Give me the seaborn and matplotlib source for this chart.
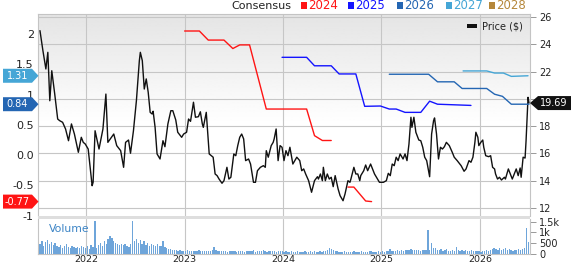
import numpy as np
import matplotlib
matplotlib.use("Agg")
import matplotlib.pyplot as plt
import seaborn as sns
from matplotlib.patches import Polygon, Rectangle
from matplotlib.transforms import blended_transform_factory

# ---------------- data ----------------
price_t_2021 = [2021.53, 2021.56, 2021.59, 2021.61, 2021.63, 2021.65, 2021.68, 2021.71, 2021.73, 2021.76,
                2021.79, 2021.82, 2021.85, 2021.88, 2021.92, 2021.95, 2021.97, 2021.99]
price_2021 = [25.00, 23.53, 22.19, 23.41, 19.86, 22.06, 20.35, 18.52, 18.40, 18.28,
              17.79, 16.93, 18.16, 17.42, 16.08, 17.18, 16.81, 16.69]
price_t_2022 = [2022.02, 2022.06, 2022.07, 2022.09, 2022.13, 2022.17, 2022.20, 2022.22, 2022.28, 2022.31,
                2022.35, 2022.38, 2022.40, 2022.43, 2022.45, 2022.48, 2022.51, 2022.54, 2022.55, 2022.57,
                2022.59, 2022.61, 2022.63, 2022.65, 2022.67, 2022.68, 2022.70, 2022.72, 2022.75, 2022.78,
                2022.80, 2022.83, 2022.86, 2022.88, 2022.91, 2022.93, 2022.97, 2022.99]
price_2022 = [16.32, 13.63, 13.88, 17.66, 16.32, 17.79, 20.35, 16.81, 17.42, 16.57,
              16.20, 14.98, 16.81, 16.98, 16.01, 17.66, 19.86, 22.80, 23.41, 22.80,
              20.72, 21.46, 20.48, 19.01, 18.89, 19.09, 17.91, 15.96, 15.59, 16.93,
              16.49, 18.16, 19.13, 19.13, 18.45, 17.55, 17.18, 17.42]
price_t_2023 = [2023.02, 2023.04, 2023.06, 2023.09, 2023.11, 2023.14, 2023.16, 2023.18, 2023.19, 2023.22,
                2023.25, 2023.29, 2023.31, 2023.33, 2023.35, 2023.38, 2023.40, 2023.43, 2023.45, 2023.47,
                2023.50, 2023.52, 2023.54, 2023.56, 2023.58, 2023.60, 2023.62, 2023.65, 2023.67, 2023.70,
                2023.72, 2023.74, 2023.77, 2023.80, 2023.82, 2023.83, 2023.85, 2023.88, 2023.90, 2023.91,
                2023.93, 2023.95, 2023.97, 2023.99]
price_2023 = [17.55, 18.52, 18.35, 19.75, 18.65, 18.69, 19.05, 18.16, 17.91, 19.01,
              15.96, 15.72, 14.49, 14.37, 14.12, 13.81, 14.00, 14.98, 14.12, 14.25,
              15.96, 15.83, 16.57, 17.18, 17.42, 17.06, 15.47, 15.59, 15.22, 13.88,
              13.88, 14.73, 14.98, 15.10, 14.98, 16.20, 15.72, 16.57, 16.81, 17.06,
              17.79, 15.47, 16.57, 16.45]
price_t_2024 = [2024.01, 2024.03, 2024.05, 2024.07, 2024.10, 2024.12, 2024.14, 2024.17, 2024.19, 2024.21,
                2024.23, 2024.26, 2024.29, 2024.32, 2024.35, 2024.36, 2024.38, 2024.40, 2024.41, 2024.43,
                2024.45, 2024.47, 2024.49, 2024.51, 2024.53, 2024.56, 2024.58, 2024.61, 2024.63, 2024.66,
                2024.68, 2024.69, 2024.72, 2024.74, 2024.76, 2024.78, 2024.79, 2024.82, 2024.84, 2024.86,
                2024.89, 2024.91, 2024.93, 2024.96, 2024.98]
price_2024 = [15.47, 16.20, 15.83, 16.45, 15.22, 15.47, 15.72, 15.47, 14.73, 14.86,
              14.49, 14.00, 13.15, 14.00, 14.29, 14.12, 14.49, 14.00, 14.98, 14.00,
              14.49, 14.12, 14.25, 13.56, 14.37, 13.39, 12.90, 12.53, 13.02, 14.00,
              13.88, 14.12, 14.98, 14.49, 14.49, 14.00, 14.37, 14.73, 15.15, 14.73,
              15.22, 14.86, 14.49, 14.12, 13.88]
price_t_2025 = [2025.02, 2025.05, 2025.07, 2025.09, 2025.11, 2025.13, 2025.15, 2025.17, 2025.19, 2025.22,
                2025.24, 2025.26, 2025.28, 2025.30, 2025.31, 2025.33, 2025.35, 2025.38, 2025.40, 2025.42,
                2025.44, 2025.46, 2025.49, 2025.51, 2025.53, 2025.54, 2025.56, 2025.58, 2025.60, 2025.62,
                2025.64, 2025.66, 2025.69, 2025.72, 2025.74, 2025.77, 2025.81, 2025.84, 2025.86, 2025.89,
                2025.91, 2025.93, 2025.95, 2025.96, 2025.98, 2025.99]
price_2025 = [13.88, 14.00, 14.54, 14.37, 15.22, 15.10, 15.72, 15.47, 15.96, 15.59,
              15.96, 15.47, 16.69, 18.65, 17.91, 18.65, 17.55, 16.98, 16.93, 16.45,
              15.72, 15.47, 14.29, 17.42, 18.40, 18.60, 17.42, 15.59, 16.45, 16.32,
              16.49, 16.81, 16.57, 16.08, 15.72, 15.47, 15.10, 14.69, 14.86, 15.47,
              15.35, 15.72, 16.81, 17.55, 17.18, 16.57]
price_t_2026 = [2026.01, 2026.03, 2026.04, 2026.06, 2026.09, 2026.11, 2026.13, 2026.15, 2026.16, 2026.18,
                2026.20, 2026.22, 2026.25, 2026.26, 2026.29, 2026.31, 2026.33, 2026.35, 2026.37, 2026.39,
                2026.41, 2026.42, 2026.44, 2026.46, 2026.47, 2026.49, 2026.50]
price_2026 = [16.81, 16.98, 16.45, 15.83, 15.76, 15.83, 14.98, 14.86, 14.49, 14.12,
              14.25, 14.05, 14.25, 14.12, 14.86, 14.49, 14.12, 14.49, 14.86, 14.37,
              14.93, 14.25, 15.72, 15.66, 16.93, 20.11, 19.69]

# consensus EPS by fiscal year (None = no estimate)
cons_2024_t = [2023.00, 2023.15, 2023.24, 2023.40, 2023.49, 2023.56, 2023.66, 2023.83, 2024.24, 2024.32,
               2024.40, 2024.49, None, 2024.66, 2024.72, 2024.84, 2024.90]
cons_2024 = [2.05, 2.05, 1.90, 1.90, 1.76, 1.82, 1.82, 0.76, 0.76, 0.32,
             0.24, 0.24, None, -0.53, -0.53, -0.76, -0.77]
cons_2025_t = [2023.99, 2024.24, 2024.32, 2024.49, 2024.57, 2024.74, 2024.83, 2024.99, 2025.08, 2025.15,
               2025.24, 2025.40, 2025.49, 2025.57, 2025.74, 2025.91]
cons_2025 = [1.615, 1.615, 1.475, 1.475, 1.34, 1.34, 0.805, 0.81, 0.76, 0.76,
             0.705, 0.705, 0.89, 0.84, 0.83, 0.82]
cons_2026_t = [2025.08, 2025.48, 2025.57, 2025.74, 2025.82, 2026.07, 2026.15, 2026.23, 2026.32, 2026.50]
cons_2026 = [1.335, 1.335, 1.21, 1.21, 1.10, 1.10, 1.005, 0.97, 0.84, 0.84]
cons_2027_t = [2025.83, 2026.07, 2026.15, 2026.24, 2026.32, 2026.49]
cons_2027 = [1.39, 1.39, 1.355, 1.355, 1.30, 1.31]

# weekly volume, first bar at vol_start (fractional year)
vol_start = 2021.53
volume_2021 = [450, 600, 370, 550, 650, 480, 560, 420, 500, 380, 330, 420, 300, 380, 460, 330, 300, 370,
               330, 300, 330, 280, 370, 330]
volume_2022 = [300, 380, 250, 420, 330, 1540, 300, 420, 500, 380, 600, 450, 700, 850, 760, 600, 500, 450,
               420, 470, 400, 450, 380, 330, 460, 1540, 600, 700, 520, 650, 480, 600, 430, 520, 380, 450,
               420, 380, 450, 350, 380, 620, 320, 280, 250, 220, 200, 180, 200, 160, 180, 150]
volume_2023 = [150, 130, 170, 140, 160, 120, 150, 130, 180, 140, 120, 150, 130, 160, 140, 180, 340, 200,
               150, 130, 160, 120, 140, 110, 150, 130, 120, 140, 110, 130, 150, 120, 110, 140, 130, 160,
               120, 180, 110, 130, 150, 120, 170, 130, 110, 140, 120, 150, 130, 110, 120, 140]
volume_2024 = [120, 100, 130, 110, 90, 120, 100, 110, 130, 90, 110, 100, 120, 90, 110, 130, 100, 120,
               110, 90, 140, 100, 120, 160, 200, 260, 220, 180, 150, 120, 100, 110, 90, 120, 100, 110,
               90, 100, 120, 90, 110, 100, 130, 90, 110, 100, 120, 140, 90, 110, 100, 120]
volume_2025 = [110, 130, 100, 140, 120, 230, 130, 150, 120, 170, 150, 180, 160, 190, 200, 180, 210, 190,
               170, 200, 180, 160, 190, 170, 200, 1110, 180, 525, 280, 300, 200, 170, 220, 150, 180, 240,
               160, 130, 200, 150, 310, 170, 140, 180, 160, 200, 150, 130, 180, 150, 120, 140]
volume_2026 = [120, 100, 150, 130, 180, 160, 200, 230, 290, 250, 200, 260, 180, 220, 270, 200, 240, 180,
               150, 200, 170, 230, 190, 250, 300, 1190, 540]

years = [2022, 2023, 2024, 2025, 2026]
eps_ticks = [2, 1.5, 1, 0.5, 0.0, -0.5, -1]
eps_tick_labels = ["2", "1.5", "1", "0.5", "0.0", "-0.5", "-1"]
price_ticks = [12, 14, 16, 18, 20, 22, 24, 26]
price_tick_labels = ["12", "14", "16", "18", "", "22", "24", "26"]  # 20 is hidden behind the price tag
vol_ticks = [0, 500, 1000, 1500]
vol_tick_labels = ["0", "500", "1k", "1.5k"]
legend_years = ["2024", "2025", "2026", "2027", "2028"]
current_eps = {"2027": 1.31, "2026": 0.84, "2024": -0.77}
last_price = 19.69

# ---------------- styling ----------------
colors = {"2024": "#ff1414", "2025": "#1414ff", "2026": "#2466b3", "2027": "#45a6d6", "2028": "#b5873a"}
grid_c = "#c6c6c6"

sns.set_theme(style="white")
plt.rcParams["font.family"] = ["DejaVu Sans"]
plt.rcParams["axes.unicode_minus"] = False

price_t = price_t_2021 + price_t_2022 + price_t_2023 + price_t_2024 + price_t_2025 + price_t_2026
price = price_2021 + price_2022 + price_2023 + price_2024 + price_2025 + price_2026
volume = volume_2021 + volume_2022 + volume_2023 + volume_2024 + volume_2025 + volume_2026
vol_t = vol_start + np.arange(len(volume)) / 52.0

W, H = 571, 264
fig = plt.figure(figsize=(W / 100, H / 100), dpi=100)
L, R = 38, 530
TOP, BOT = 14, 216
VTOP, VBOT = 219, 254


def rect(px0, py0, px1, py1):
    return [px0 / W, 1 - py1 / H, (px1 - px0) / W, (py1 - py0) / H]


ax = fig.add_axes(rect(L, TOP, R, BOT))
axv = fig.add_axes(rect(L, VTOP, R, VBOT), sharex=ax)
ax_eps = ax.twinx()

xlo, xhi = 2021.51, 2026.51
price_lo, price_hi = 11.41, 26.22
eps_lo, eps_hi = -1.008, 2.331

# gradient background of the main panel
grad = np.concatenate([np.linspace(0.895, 1.0, 110), np.ones(90)])[:, None]
ax.imshow(grad, extent=[0, 1, 0, 1], transform=ax.transAxes, aspect="auto",
          cmap="gray", vmin=0, vmax=1, zorder=0, interpolation="bilinear")

# price line
sns.lineplot(x=price_t, y=price, ax=ax, color="#111111", linewidth=1.0,
             estimator=None, sort=False, legend=False, zorder=3)


def segments(ts, vs):
    out, ct, cv = [], [], []
    for t, v in zip(ts, vs):
        if t is None or v is None:
            if ct:
                out.append((ct, cv))
            ct, cv = [], []
        else:
            ct.append(t)
            cv.append(v)
    if ct:
        out.append((ct, cv))
    return out


for key, ts, vs in [("2024", cons_2024_t, cons_2024), ("2025", cons_2025_t, cons_2025),
                    ("2026", cons_2026_t, cons_2026), ("2027", cons_2027_t, cons_2027)]:
    for st, sv in segments(ts, vs):
        sns.lineplot(x=st, y=sv, ax=ax_eps, color=colors[key], linewidth=1.0,
                     estimator=None, sort=False, legend=False, zorder=4)

# axes limits / ticks
ax.set_xlim(xlo, xhi)
ax.set_ylim(price_lo, price_hi)
ax_eps.set_ylim(eps_lo, eps_hi)

ax.yaxis.tick_right()
ax.set_yticks(price_ticks)
ax.set_yticklabels(price_tick_labels)
ax.tick_params(axis="y", right=True, length=4.5, width=0.7, color="#999999", pad=2,
               labelsize=7, labelcolor="#222222")
ax.set_xticks(years)
ax.tick_params(axis="x", bottom=False, labelbottom=False, length=0)
ax.grid(True, color=grid_c, linewidth=0.8)
ax.set_axisbelow(True)

ax_eps.yaxis.tick_left()
ax_eps.set_yticks(eps_ticks)
ax_eps.set_yticklabels(eps_tick_labels)
ax_eps.tick_params(axis="y", left=False, right=False, length=0, pad=3, labelsize=8, labelcolor="#222222")
ax_eps.grid(False)

for a in (ax, ax_eps):
    a.set_xlabel("")
    a.set_ylabel("")
for s in ["top", "left", "right"]:
    ax.spines[s].set_color("#c4c4c4")
    ax.spines[s].set_linewidth(0.8)
ax.spines["bottom"].set_visible(False)
for s in ax_eps.spines.values():
    s.set_visible(False)

# volume panel
axv.bar(vol_t, volume, width=0.7 / 52, color="#6ea5da", linewidth=0, zorder=3)
axv.set_ylim(0, 1620)
axv.set_xlim(xlo, xhi)
axv.yaxis.tick_right()
axv.set_yticks(vol_ticks)
axv.set_yticklabels(vol_tick_labels)
axv.tick_params(axis="y", right=True, left=False, length=4.5, width=0.7, color="#999999", pad=2,
                labelsize=7, labelcolor="#222222")
axv.set_xticks(years)
axv.set_xticklabels([str(y) for y in years])
axv.tick_params(axis="x", bottom=False, length=0, pad=1, labelsize=6.8, labelcolor="#222222")
axv.grid(True, axis="x", color=grid_c, linewidth=0.8)
axv.grid(False, axis="y")
axv.set_axisbelow(True)
axv.spines["top"].set_visible(False)
for s in ["left", "right", "bottom"]:
    axv.spines[s].set_color("#c4c4c4")
    axv.spines[s].set_linewidth(0.8)
axv.text(48.7 / W, 1 - 232.5 / H, "Volume", transform=fig.transFigure, color="#3d85c6",
         fontsize=7.8, ha="left", va="baseline")

# separator band between panels
fig.patches.append(Rectangle((L / W, 1 - 219 / H), (R - L) / W, 3 / H, transform=fig.transFigure,
                             facecolor="#dedede", edgecolor="none", zorder=5))

# left consensus tags
ax_h_px = BOT - TOP
ppe = ax_h_px / (eps_hi - eps_lo)
pw = R - L
trans_l = blended_transform_factory(ax.transAxes, ax_eps.transData)
for key in ["2027", "2026", "2024"]:
    val = current_eps[key]
    hh = 7 / ppe
    x0, xs, xt = (3 - L) / pw, (32 - L) / pw, (38.5 - L) / pw
    ax_eps.add_patch(Polygon([[x0, val - hh], [xs, val - hh], [xt, val], [xs, val + hh], [x0, val + hh]],
                             closed=True, transform=trans_l, facecolor=colors[key], edgecolor="none",
                             clip_on=False, zorder=6))
    ax_eps.text((17.5 - L) / pw, val, f"{val:.2f}", transform=trans_l, ha="center", va="center",
                color="white", fontsize=7, clip_on=False, zorder=7)

# right price tag
ppp = ax_h_px / (price_hi - price_lo)
trans_r = blended_transform_factory(ax.transAxes, ax.transData)
hh = 7 / ppp
xt, xs, x1 = 1.0, 1 + 8 / pw, 1 + 41 / pw
ax.add_patch(Polygon([[xt, last_price], [xs, last_price - hh], [x1, last_price - hh],
                      [x1, last_price + hh], [xs, last_price + hh]], closed=True, transform=trans_r,
                     facecolor="#111111", edgecolor="none", clip_on=False, zorder=6))
ax.text(1 + 23.5 / pw, last_price, f"{last_price:.2f}", transform=trans_r, ha="center", va="center",
        color="white", fontsize=7, clip_on=False, zorder=7)

# price legend inside plot
fig.patches.append(Rectangle((466.7 / W, 1 - 28.2 / H), 10 / W, 3.8 / H, transform=fig.transFigure,
                             facecolor="#111111", edgecolor="none", zorder=6))
fig.text(482 / W, 1 - 29.3 / H, "Price ($)", fontsize=7, ha="left", va="baseline", color="#222222")

# consensus legend on top
fig.text(291 / W, 1 - 9.3 / H, "Consensus", fontsize=8, ha="right", va="baseline", color="#222222")
sq_x = [300.7, 347.7, 396.7, 445.7, 489.0]
for k, xq in zip(legend_years, sq_x):
    fig.patches.append(Rectangle((xq / W, 1 - 8.6 / H), 6 / W, 7 / H, transform=fig.transFigure,
                                 facecolor=colors[k], edgecolor="none"))
    fig.text((xq + 7.5) / W, 1 - 9.3 / H, k, fontsize=8.5, ha="left", va="baseline", color=colors[k])

fig.savefig("out.png", dpi=100)
